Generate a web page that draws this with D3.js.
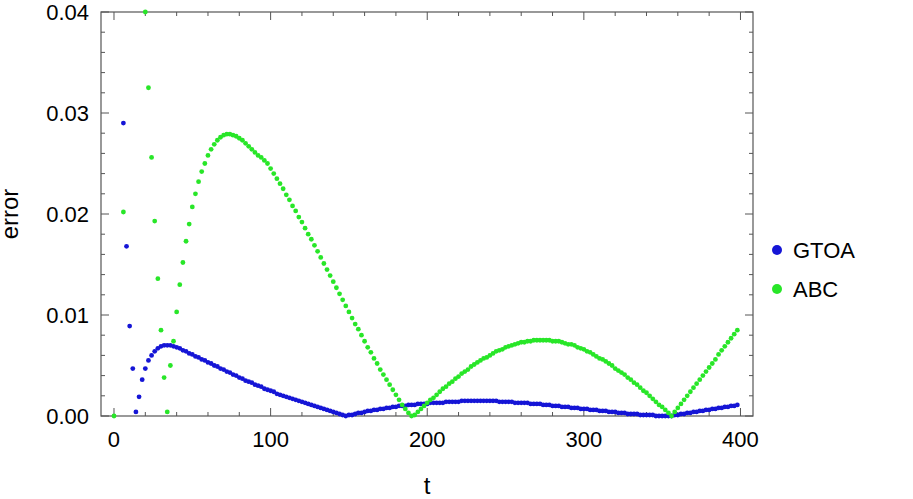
<!DOCTYPE html>
<html>
<head>
<meta charset="utf-8">
<script src="https://cdn.jsdelivr.net/npm/d3@7"></script>
<style>
  body { margin: 0; background: #fff; }
  text { font-family: "Liberation Sans", Arial, sans-serif; }
</style>
</head>
<body>
<svg id="chart" width="913" height="499"></svg>
<script>
// t values, step 2
const tValues = d3.range(0, 401, 2);

// early points that are off scale are null
const gtoaEarly = [null, null, null, 0.0290, 0.0168, 0.0089, 0.0047, 0.0004, 0.0019, 0.0036, 0.0047, 0.0055, 0.0060];
const gtoaRest = [
  0.0064, 0.0067, 0.0069, 0.0070, 0.0070, 0.0070, 0.0069, 0.0068, 0.0067, 0.0065, 0.0064, 0.0062, 0.0061, 0.0059, 0.0058,
  0.0056, 0.0055, 0.0053, 0.0052, 0.0050, 0.0049, 0.0047, 0.0046, 0.0044, 0.0043, 0.0041, 0.0040, 0.0038, 0.0037, 0.0035,
  0.0034, 0.0033, 0.0031, 0.0030, 0.0029, 0.0027, 0.0026, 0.0025, 0.0024, 0.0022, 0.0021, 0.0020, 0.0019, 0.0018, 0.0017,
  0.0016, 0.0015, 0.0014, 0.0013, 0.0012, 0.0011, 0.0010, 0.0009, 0.0008, 0.0007, 0.0006, 0.0005, 0.0004, 0.0003, 0.0002,
  0.0001, 0.0000, 0.0001, 0.0001, 0.0002, 0.0003, 0.0003, 0.0004, 0.0005, 0.0005, 0.0006, 0.0006, 0.0007, 0.0007, 0.0008,
  0.0008, 0.0009, 0.0009, 0.0010, 0.0010, 0.0010, 0.0011, 0.0011, 0.0011, 0.0012, 0.0012, 0.0012, 0.0012, 0.0013, 0.0013,
  0.0013, 0.0013, 0.0013, 0.0014, 0.0014, 0.0014, 0.0014, 0.0014, 0.0015, 0.0015, 0.0015, 0.0015, 0.0015, 0.0015, 0.0015,
  0.0015, 0.0015, 0.0015, 0.0015, 0.0015, 0.0014, 0.0014, 0.0014, 0.0014, 0.0014, 0.0013, 0.0013, 0.0013, 0.0013, 0.0013,
  0.0012, 0.0012, 0.0012, 0.0012, 0.0011, 0.0011, 0.0011, 0.0010, 0.0010, 0.0010, 0.0009, 0.0009, 0.0009, 0.0008, 0.0008,
  0.0008, 0.0007, 0.0007, 0.0007, 0.0006, 0.0006, 0.0006, 0.0005, 0.0005, 0.0005, 0.0004, 0.0004, 0.0004, 0.0003, 0.0003,
  0.0003, 0.0002, 0.0002, 0.0002, 0.0002, 0.0001, 0.0001, 0.0001, 0.0001, 0.0001, 0.0000, 0.0000, 0.0000, 0.0000, 0.0000,
  0.0000, 0.0001, 0.0001, 0.0002, 0.0002, 0.0003, 0.0003, 0.0004, 0.0004, 0.0005, 0.0005, 0.0006, 0.0006, 0.0007, 0.0007,
  0.0008, 0.0008, 0.0009, 0.0009, 0.0010, 0.0010, 0.0011
];
const abcEarly = [0.0000, null, null, 0.0202, null, null, null, null, null, null, 0.0400, 0.0325, 0.0256, 0.0193, 0.0136, 0.0085, 0.0038, 0.0004];
const abcRest = [
  0.0050, 0.0074, 0.0103, 0.0130, 0.0152, 0.0173, 0.0190, 0.0207, 0.0220, 0.0232, 0.0242, 0.0250, 0.0258, 0.0264, 0.0269,
  0.0273, 0.0276, 0.0278, 0.0279, 0.0279, 0.0278, 0.0277, 0.0275, 0.0273, 0.0270, 0.0267, 0.0264, 0.0261, 0.0258, 0.0256,
  0.0253, 0.0250, 0.0245, 0.0240, 0.0235, 0.0230, 0.0225, 0.0219, 0.0214, 0.0208, 0.0203, 0.0197, 0.0192, 0.0186, 0.0180,
  0.0175, 0.0169, 0.0163, 0.0157, 0.0151, 0.0145, 0.0139, 0.0133, 0.0127, 0.0121, 0.0115, 0.0109, 0.0103, 0.0097, 0.0091,
  0.0086, 0.0080, 0.0074, 0.0068, 0.0063, 0.0057, 0.0052, 0.0046, 0.0041, 0.0036, 0.0031, 0.0026, 0.0021, 0.0016, 0.0011,
  0.0007, 0.0003, 0.0000, 0.0001, 0.0004, 0.0007, 0.0010, 0.0013, 0.0016, 0.0018, 0.0021, 0.0024, 0.0027, 0.0029, 0.0032,
  0.0034, 0.0037, 0.0039, 0.0042, 0.0044, 0.0046, 0.0049, 0.0051, 0.0053, 0.0055, 0.0057, 0.0058, 0.0060, 0.0062, 0.0064,
  0.0065, 0.0066, 0.0068, 0.0069, 0.0070, 0.0071, 0.0072, 0.0073, 0.0073, 0.0074, 0.0074, 0.0075, 0.0075, 0.0075, 0.0075,
  0.0075, 0.0075, 0.0074, 0.0074, 0.0074, 0.0073, 0.0072, 0.0071, 0.0071, 0.0070, 0.0068, 0.0067, 0.0066, 0.0064, 0.0063,
  0.0061, 0.0059, 0.0057, 0.0056, 0.0054, 0.0052, 0.0050, 0.0047, 0.0045, 0.0043, 0.0041, 0.0038, 0.0036, 0.0033, 0.0031,
  0.0028, 0.0025, 0.0023, 0.0020, 0.0017, 0.0014, 0.0011, 0.0009, 0.0006, 0.0003, 0.0000, 0.0004, 0.0008, 0.0012, 0.0016,
  0.0020, 0.0024, 0.0028, 0.0032, 0.0036, 0.0040, 0.0044, 0.0048, 0.0052, 0.0056, 0.0061, 0.0065, 0.0069, 0.0073, 0.0077,
  0.0081, 0.0085
];
const gtoaValues = gtoaEarly.concat(gtoaRest);
const abcValues = abcEarly.concat(abcRest);

const seriesNames = ["GTOA", "ABC"];
const seriesColors = ["#1515d6", "#28e628"];
const xTicks = [0, 100, 200, 300, 400];
const yTicks = [0, 0.01, 0.02, 0.03, 0.04];

const svg = d3.select("#chart");
const pLeft = 101, pRight = 753, pTop = 12, pBottom = 416;

const x = d3.scaleLinear().domain([-8.3, 408]).range([pLeft, pRight]);
const y = d3.scaleLinear().domain([0, 0.04]).range([pBottom, pTop]);

svg.append("clipPath").attr("id", "clip")
  .append("rect").attr("x", pLeft).attr("y", pTop - 3).attr("width", pRight - pLeft).attr("height", pBottom - pTop + 6);

// frame
svg.append("rect")
  .attr("x", pLeft).attr("y", pTop).attr("width", pRight - pLeft).attr("height", pBottom - pTop)
  .attr("fill", "none").attr("stroke", "#555").attr("stroke-width", 1.2);

// ticks on all sides
const ticks = svg.append("g").attr("stroke", "#555").attr("stroke-width", 1);
d3.range(0, 401, 20).forEach(v => {
  const len = v % 100 === 0 ? 8 : 4;
  ticks.append("line").attr("x1", x(v)).attr("x2", x(v)).attr("y1", pBottom).attr("y2", pBottom - len);
  ticks.append("line").attr("x1", x(v)).attr("x2", x(v)).attr("y1", pTop).attr("y2", pTop + len);
});
d3.range(0, 21).map(i => i * 0.002).forEach((v, i) => {
  const len = i % 5 === 0 ? 8 : 4;
  ticks.append("line").attr("y1", y(v)).attr("y2", y(v)).attr("x1", pLeft).attr("x2", pLeft + len);
  ticks.append("line").attr("y1", y(v)).attr("y2", y(v)).attr("x1", pRight).attr("x2", pRight - len);
});

// tick labels
svg.append("g").selectAll("text").data(xTicks).join("text")
  .attr("x", d => x(d)).attr("y", 447).attr("text-anchor", "middle")
  .attr("font-size", 22).text(d => d);
svg.append("g").selectAll("text").data(yTicks).join("text")
  .attr("x", 89).attr("y", d => y(d) + 8).attr("text-anchor", "end")
  .attr("font-size", 22).text(d => d.toFixed(2));

// axis titles
svg.append("text").attr("x", (pLeft + pRight) / 2).attr("y", 494).attr("text-anchor", "middle")
  .attr("font-size", 24).text("t");
svg.append("text").attr("transform", "translate(18," + (pTop + pBottom) / 2 + ") rotate(-90)")
  .attr("text-anchor", "middle").attr("font-size", 24).text("error");

// points
const plot = svg.append("g").attr("clip-path", "url(#clip)");
[gtoaValues, abcValues].forEach((vals, k) => {
  const pts = tValues.map((t, i) => ({ t: t, v: vals[i] })).filter(d => d.v !== null && d.v !== undefined);
  plot.append("g").selectAll("circle").data(pts).join("circle")
    .attr("cx", d => x(d.t)).attr("cy", d => y(d.v)).attr("r", 2.4)
    .attr("fill", seriesColors[k]);
});

// legend
const legend = svg.append("g");
seriesNames.forEach((name, k) => {
  legend.append("circle").attr("cx", 777).attr("cy", 250 + k * 39).attr("r", 5).attr("fill", seriesColors[k]);
  legend.append("text").attr("x", 793).attr("y", 258 + k * 39).attr("font-size", 22).text(name);
});
</script>
</body>
</html>
